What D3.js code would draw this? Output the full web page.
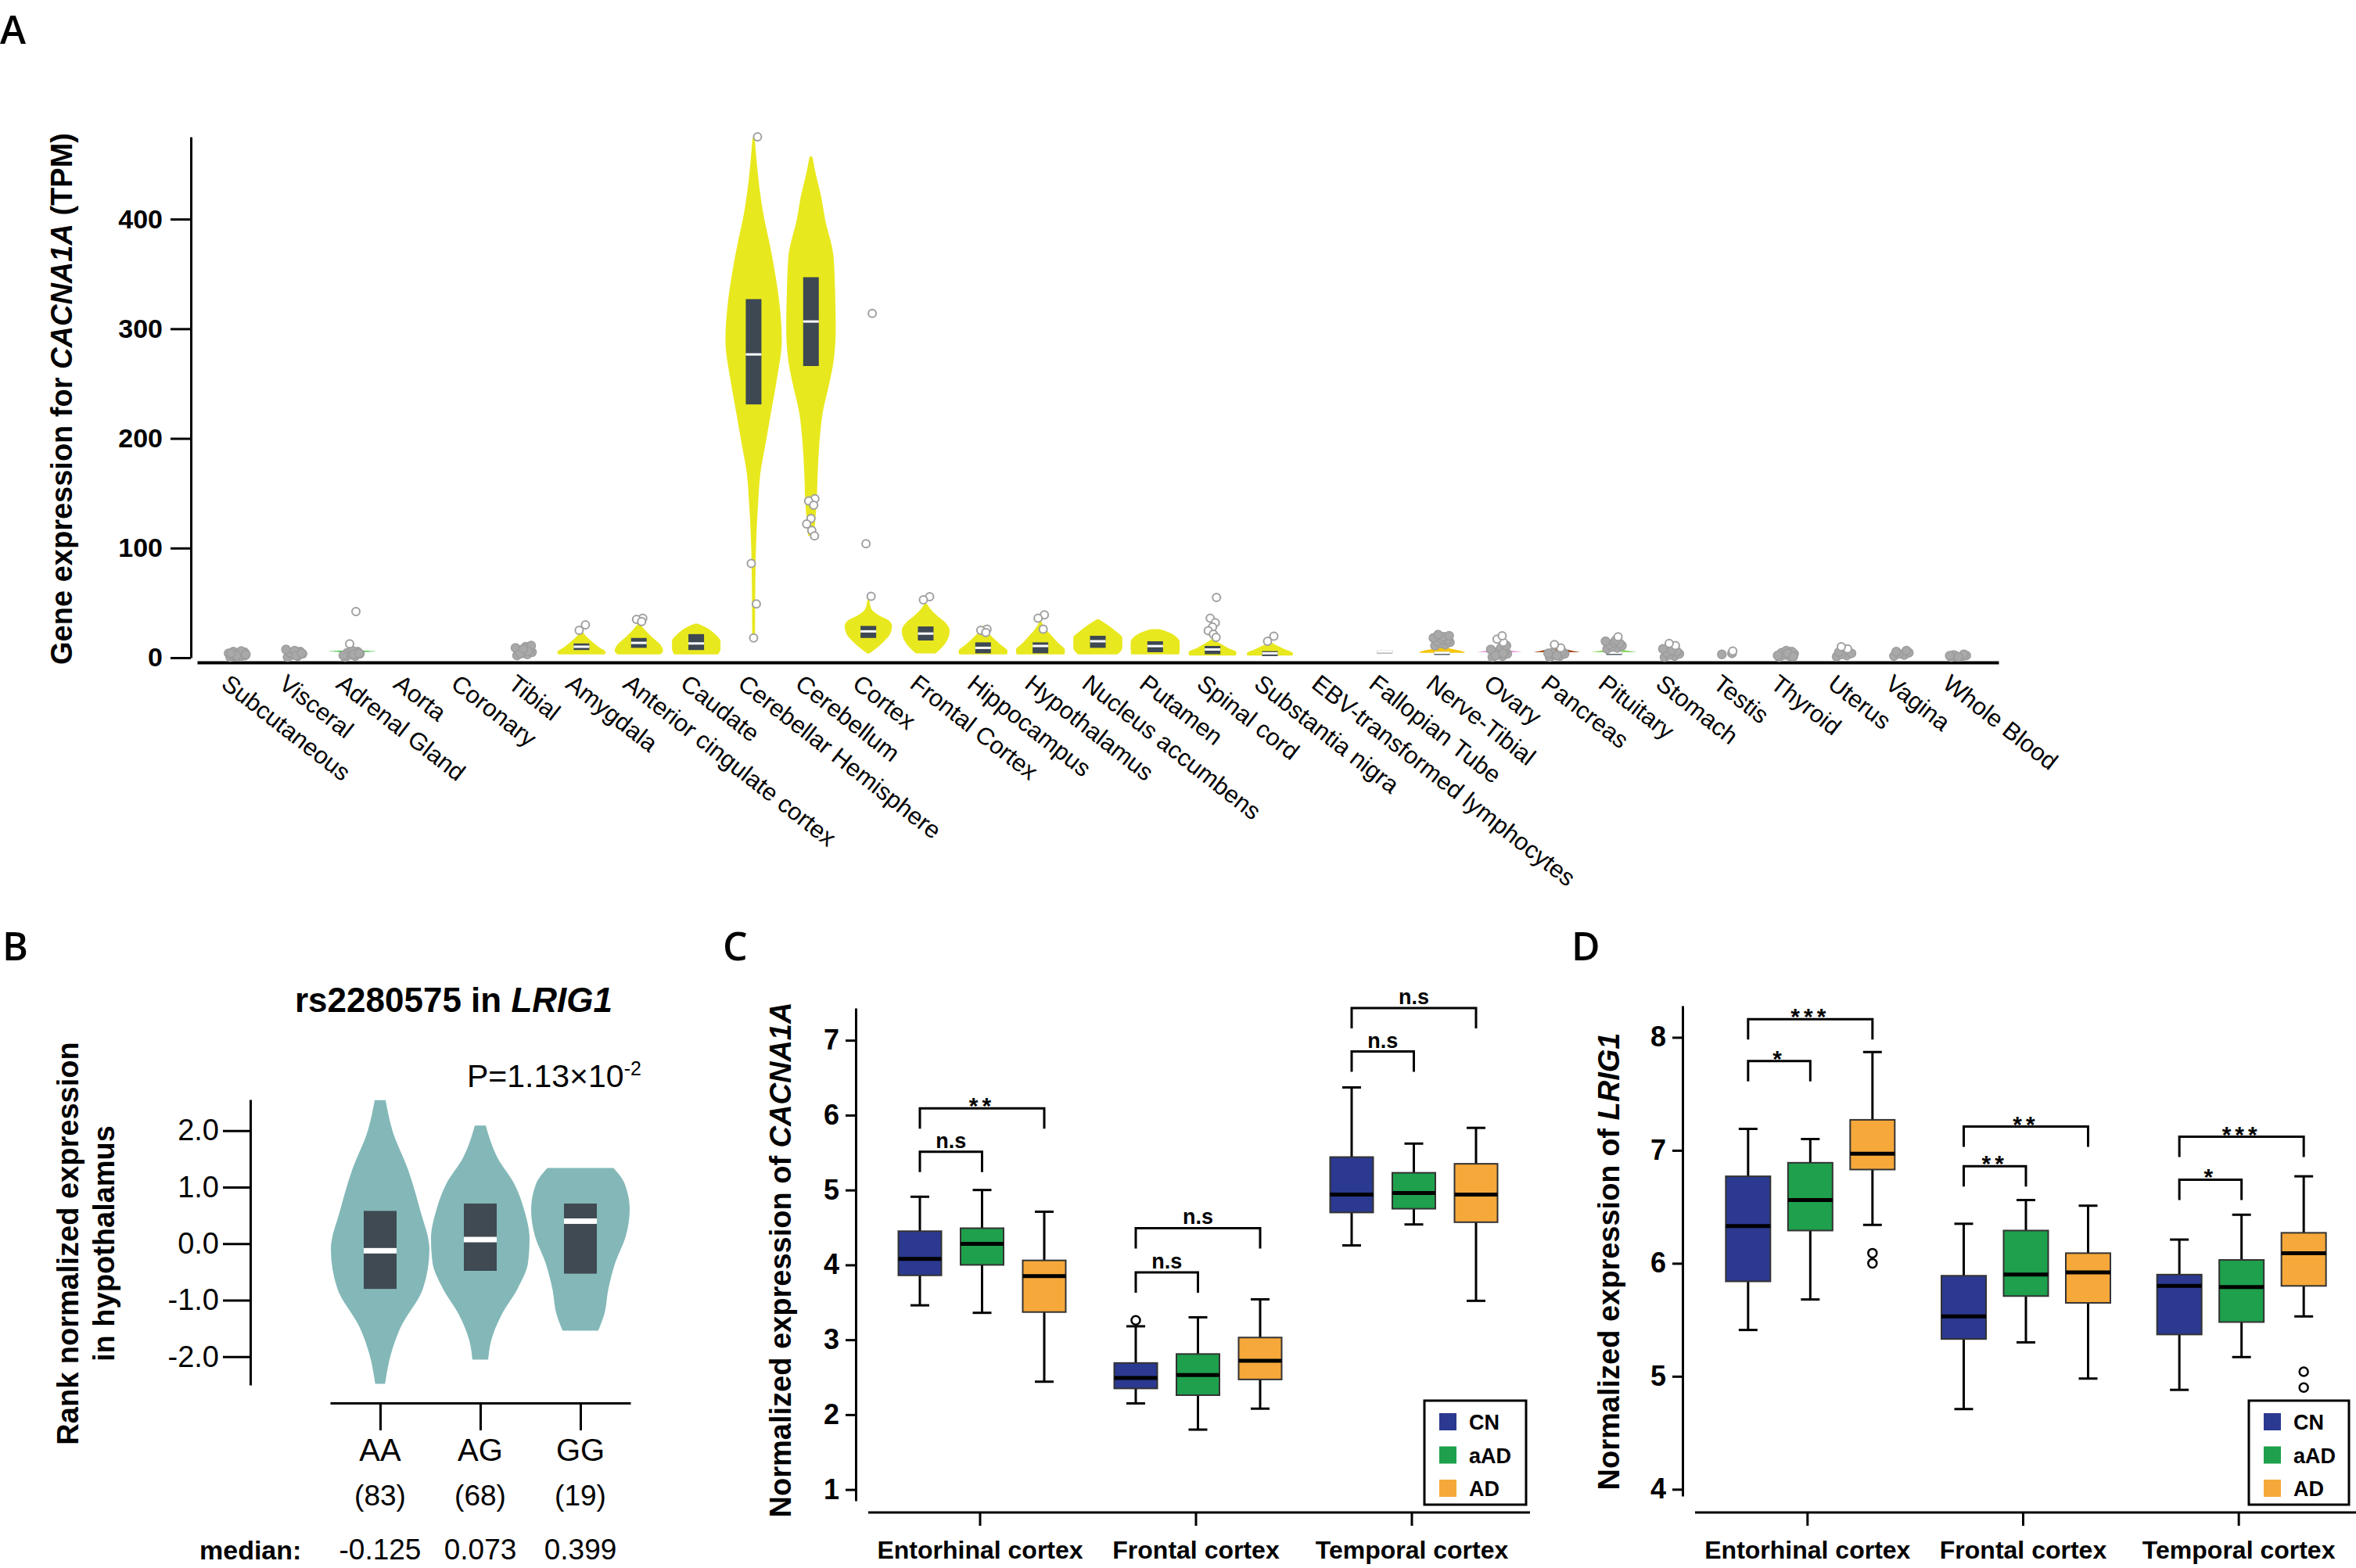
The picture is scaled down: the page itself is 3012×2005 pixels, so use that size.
<!DOCTYPE html>
<html>
<head>
<meta charset="utf-8">
<script src="https://cdn.jsdelivr.net/npm/d3@7/dist/d3.min.js"></script>
<style>
  body { margin: 0; background: #fff; }
  svg { display: block; }
  text { font-family: "Liberation Sans", Arial, Helvetica, sans-serif; fill: #000; }
  .narrow { font-family: "Liberation Sans Narrow", "Arial Narrow", "Liberation Sans", Arial, sans-serif; }
  .plabel { font-family: "Open Sans", "Liberation Sans", sans-serif; font-weight: 600; font-size: 50px; }
</style>
</head>
<body>
<svg id="figure" width="3012" height="2005"></svg>
<script>
// ---------- A: tissue expression of CACNA1A (TPM) ----------
const tissues = ["Subcutaneous", "Visceral", "Adrenal Gland", "Aorta", "Coronary", "Tibial",
  "Amygdala", "Anterior cingulate cortex", "Caudate", "Cerebellar Hemisphere", "Cerebellum",
  "Cortex", "Frontal Cortex", "Hippocampus", "Hypothalamus", "Nucleus accumbens", "Putamen",
  "Spinal cord", "Substantia nigra", "EBV-transformed lymphocytes", "Fallopian Tube",
  "Nerve-Tibial", "Ovary", "Pancreas", "Pituitary", "Stomach", "Testis", "Thyroid", "Uterus",
  "Vagina", "Whole Blood"];
const tissueColors = ["#FFA54F", "#FFA54F", "#3DBF3D", "#8B1C62", "#EE6A50", "#FF0000",
  "#E8E81E", "#E8E81E", "#E8E81E", "#E8E81E", "#E8E81E", "#E8E81E", "#E8E81E", "#E8E81E",
  "#E8E81E", "#E8E81E", "#E8E81E", "#E8E81E", "#E8E81E", "#CC66FF", "#FFCCCC",
  "#F5C60A", "#E896D8", "#A04A1A", "#86D460", "#FFDD99", "#AAAAAA", "#006600", "#FF66FF",
  "#FF5555", "#FF00BB"];
const tpmTicks = [0, 100, 200, 300, 400];
// violin outline: [TPM, relative half width]
const tissueViolins = [
  null, null,
  [[5, 0.3], [5.8, 0.84], [6.6, 0.3], [8, 0.06]],
  null, null, null,
  [[3, 0.82], [5, 0.86], [10, 0.6], [15, 0.36], [20, 0.15], [24, 0.03]],
  [[3, 0.75], [6, 0.86], [12, 0.76], [18, 0.5], [24, 0.26], [29, 0.09], [31, 0.03]],
  [[3, 0.78], [8, 0.86], [15, 0.86], [22, 0.65], [28, 0.32], [31, 0.05]],
  [[15, 0.05], [84, 0.07], [112, 0.1], [141, 0.16], [168, 0.24], [196, 0.43], [224, 0.62],
   [253, 0.82], [290, 1.0], [320, 0.93], [351, 0.76], [380, 0.55], [400, 0.38], [430, 0.2],
   [455, 0.1], [474, 0.04]],
  [[111, 0.1], [141, 0.2], [170, 0.24], [196, 0.3], [224, 0.42], [250, 0.65], [270, 0.8],
   [300, 0.88], [330, 0.86], [366, 0.8], [400, 0.5], [422, 0.35], [440, 0.18], [457, 0.05]],
  [[4, 0.04], [10, 0.35], [15, 0.56], [22, 0.78], [29, 0.84], [34, 0.72], [39, 0.35],
   [44, 0.12], [50, 0.05], [57, 0.02]],
  [[4, 0.35], [10, 0.6], [18, 0.8], [25, 0.85], [32, 0.7], [38, 0.42], [44, 0.18], [49, 0.05]],
  [[3, 0.85], [6, 0.87], [12, 0.62], [18, 0.36], [24, 0.14], [29, 0.03]],
  [[3, 0.85], [7, 0.87], [13, 0.65], [20, 0.4], [27, 0.17], [33, 0.03]],
  [[3, 0.7], [9, 0.87], [18, 0.87], [25, 0.6], [31, 0.28], [35, 0.04]],
  [[3, 0.85], [8, 0.87], [14, 0.87], [19, 0.75], [23, 0.5], [26, 0.15]],
  [[2, 0.82], [5, 0.85], [9, 0.55], [13, 0.27], [16, 0.08], [18, 0.02]],
  [[2, 0.8], [4, 0.82], [8, 0.5], [11, 0.25], [14, 0.04]],
  null, null,
  [[4.5, 0.82], [6, 0.7], [8, 0.35], [10, 0.05]],
  [[5, 0.8], [6.5, 0.45], [8, 0.15], [9, 0.02]],
  [[5, 0.82], [7, 0.45], [9, 0.15], [11, 0.02]],
  [[5, 0.82], [6.5, 0.45], [8, 0.15], [9.5, 0.02]],
  null, null, null, null, null, null];
// [q1, median, q3]
const tissueBoxes = [null, null, null, null, null, null,
  [7, 10, 13], [9, 13.5, 18], [7, 13, 21.5], [231, 276.6, 327], [266, 306.6, 347],
  [18, 24, 29], [15.7, 22, 28.5], [4, 9, 14], [4, 10.7, 14], [9, 15, 20], [5, 10.6, 15],
  [3.2, 7.5, 10.7], [1.5, 4, 6], null, [4, 5.5, 6.5], [2.5, 4.5, 5.5], null, null,
  [2.5, 4.5, 5.5], null, null, null, null, null, null];
// dense sample clouds (drawn solid grey)
const tissueClouds = [
  [0.5, 1, 1.5, 2, 2.5, 3, 3.5, 4, 4.5, 5, 5.5, 6, 2, 3, 4],
  [0.5, 1.5, 2.5, 3.5, 4.5, 5.5, 6.5, 7.5, 2, 4],
  [0.5, 1.5, 2.5, 3.5, 4.5, 5.5, 6.5, 2, 3, 4],
  [], [],
  [2, 3, 4, 5, 6, 7, 8, 9, 10, 11, 4, 6, 8],
  [], [], [], [], [], [], [], [], [], [], [], [], [], [], [],
  [11, 12, 13, 14, 15, 16, 17, 18, 19, 20, 21],
  [0.5, 1.5, 2.5, 3.5, 4.5, 5.5, 6.5, 7.5, 9, 11, 2, 4],
  [0.5, 1.5, 2.5, 3.5, 4.5, 5.5, 2, 4],
  [8, 9, 10, 11, 12, 13, 14, 15, 16],
  [0.5, 1.5, 2.5, 3.5, 4.5, 5.5, 6.5, 8],
  [3, 4],
  [0.5, 1.5, 2.5, 3.5, 4.5, 5.5, 6.5, 2, 4, 1],
  [1, 2, 3, 4, 5],
  [1.5, 2.5, 3.5, 4.5, 5.5, 6.5],
  [0.5, 1, 1.5, 2, 2.5, 3, 0.8, 1.8]];
// isolated outliers (hollow)
const tissueOutliers = [[], [], [42, 12.7], [], [], [],
  [30, 25], [36, 35, 33], [], [475, 86, 49, 18], [145, 143, 139, 127, 122, 116, 111],
  [314, 104, 56], [55.7, 52.8], [26, 25, 23], [39, 36, 26], [], [],
  [55, 36, 32, 28, 24.6, 21.4, 18.6], [19.6, 15], [], [], [], [14, 17, 20], [9, 12], [19],
  [11, 13], [6], [], [8, 10], [], []];

// ---------- B: rs2280575 eQTL for LRIG1 in hypothalamus ----------
const genotypes = ["AA", "AG", "GG"];
const genotypeCounts = [83, 68, 19];
const genotypeMedians = [-0.125, 0.073, 0.399];
const genotypeQuartiles = [[-0.80, 0.58], [-0.48, 0.71], [-0.53, 0.71]];
const genotypeViolins = [
  [[-2.48, 0.1], [-1.95, 0.22], [-1.49, 0.41], [-0.79, 0.87], [-0.1, 1.0], [0.6, 0.81],
   [1.3, 0.57], [2.0, 0.25], [2.54, 0.11]],
  [[-2.05, 0.16], [-1.72, 0.22], [-1.26, 0.43], [-0.79, 0.76], [-0.33, 0.97], [0.09, 1.0],
   [0.6, 0.89], [1.06, 0.69], [1.52, 0.35], [2.09, 0.11]],
  [[-1.54, 0.36], [-1.26, 0.48], [-0.79, 0.57], [-0.33, 0.71], [0.13, 0.92], [0.6, 1.0],
   [1.06, 0.9], [1.34, 0.67]]];
const rankTicks = [-2, -1, 0, 1, 2];

// ---------- C / D: brain region boxplots ----------
const regions = ["Entorhinal cortex", "Frontal cortex", "Temporal cortex"];
const diagnoses = ["CN", "aAD", "AD"];
const diagnosisColors = ["#2B3991", "#1EA04C", "#F7A83A"];
// [lower whisker, q1, median, q3, upper whisker]
const cacnaStats = [
  [[3.46, 3.86, 4.08, 4.45, 4.91], [3.36, 4.00, 4.28, 4.49, 5.00], [2.44, 3.37, 3.85, 4.06, 4.71]],
  [[2.15, 2.35, 2.49, 2.69, 3.18], [1.80, 2.26, 2.53, 2.81, 3.30], [2.08, 2.47, 2.72, 3.03, 3.54]],
  [[4.26, 4.70, 4.94, 5.44, 6.37], [4.54, 4.75, 4.96, 5.23, 5.62], [3.52, 4.57, 4.94, 5.35, 5.83]]];
const cacnaOutliers = [[[], [], []], [[3.26], [], []], [[], [], []]];
const cacnaBrackets = [
  ["Entorhinal cortex", "CN", "aAD", 5.51, "n.s"], ["Entorhinal cortex", "CN", "AD", 6.09, "**"],
  ["Frontal cortex", "CN", "aAD", 3.90, "n.s"], ["Frontal cortex", "CN", "AD", 4.49, "n.s"],
  ["Temporal cortex", "CN", "aAD", 6.85, "n.s"], ["Temporal cortex", "CN", "AD", 7.43, "n.s"]];
const cacnaTicks = [1, 2, 3, 4, 5, 6, 7];

const lrigStats = [
  [[5.41, 5.84, 6.33, 6.77, 7.19], [5.68, 6.29, 6.56, 6.89, 7.10], [6.34, 6.83, 6.97, 7.27, 7.87]],
  [[4.71, 5.33, 5.53, 5.89, 6.35], [5.30, 5.71, 5.90, 6.29, 6.56], [4.98, 5.65, 5.92, 6.09, 6.51]],
  [[4.88, 5.37, 5.80, 5.90, 6.21], [5.17, 5.48, 5.79, 6.03, 6.43], [5.53, 5.80, 6.09, 6.27, 6.77]]];
const lrigOutliers = [[[], [], [6.09, 6.0]], [[], [], []], [[], [], [5.04, 4.90]]];
const lrigBrackets = [
  ["Entorhinal cortex", "CN", "aAD", 7.79, "*"], ["Entorhinal cortex", "CN", "AD", 8.16, "***"],
  ["Frontal cortex", "CN", "aAD", 6.86, "**"], ["Frontal cortex", "CN", "AD", 7.21, "**"],
  ["Temporal cortex", "CN", "aAD", 6.74, "*"], ["Temporal cortex", "CN", "AD", 7.12, "***"]];
const lrigTicks = [4, 5, 6, 7, 8];

const svg = d3.select("#figure");
svg.append("rect").attr("width", 3012).attr("height", 2005).attr("fill", "#fff");

// deterministic horizontal spread for stacked points
const JITTER = [-9, 4, -3, 10, -6, 7, 0, -11, 2, 9, -5, 5, -1, 11, -8, 3];

function styleAxisText(g, size, weight) {
  g.attr("font-family", null).attr("font-size", null);
  g.selectAll("text").attr("font-size", size).attr("font-weight", weight).attr("fill", "#000");
  g.selectAll("line, path").attr("stroke", "#000").attr("stroke-width", 3);
}

// ================= Panel A =================
(function drawA() {
  const x = d3.scalePoint().domain(tissues).range([252, 2555]).padding(0.7);
  const y = d3.scaleLinear().domain([0, 475]).range([841, 175]);
  const w = d3.scaleLinear().domain([0, 1]).range([0, 36]);
  const g = svg.append("g");

  const yAxis = g.append("g").attr("transform", "translate(244,0)")
    .call(d3.axisLeft(y).tickValues(tpmTicks).tickSize(26).tickSizeOuter(0).tickPadding(10)
      .tickFormat(d3.format("d")));
  styleAxisText(yAxis, 34, "bold");

  const xAxis = g.append("g").attr("transform", "translate(0,847)")
    .call(d3.axisBottom(x).tickSize(0).tickSizeOuter(0).tickFormat(""));
  xAxis.select(".domain").attr("stroke", "#000").attr("stroke-width", 4);

  g.append("g").selectAll("text").data(tissues).join("text")
    .attr("x", d => x(d) - 22).attr("y", 878)
    .attr("transform", d => `rotate(38,${x(d) - 22},878)`)
    .attr("font-size", 31)
    .text(d => d);

  const violins = tissues.map((t, i) => ({ t, i, prof: tissueViolins[i] })).filter(d => d.prof);
  g.append("g").selectAll("path").data(violins).join("path")
    .attr("fill", d => tissueColors[d.i])
    .attr("d", d => d3.area().curve(d3.curveMonotoneY)
      .y(p => y(p[0])).x0(p => x(d.t) - w(p[1])).x1(p => x(d.t) + w(p[1]))(d.prof));

  const boxes = tissues.map((t, i) => ({ t, b: tissueBoxes[i] })).filter(d => d.b);
  const bg = g.append("g");
  bg.selectAll("rect.box").data(boxes).join("rect").attr("class", "box")
    .attr("x", d => x(d.t) - 10).attr("width", 20)
    .attr("y", d => y(d.b[2])).attr("height", d => Math.max(3, y(d.b[0]) - y(d.b[2])))
    .attr("fill", "#3d4853");
  bg.selectAll("rect.med").data(boxes).join("rect").attr("class", "med")
    .attr("x", d => x(d.t) - 10).attr("width", 20)
    .attr("y", d => y(d.b[1]) - 1.5).attr("height", 3)
    .attr("fill", "#fff");

  const cloud = tissues.flatMap((t, i) => tissueClouds[i].map((v, k) => ({ t, v, k })));
  g.append("g").selectAll("circle").data(cloud).join("circle")
    .attr("cx", d => x(d.t) + JITTER[d.k % 16])
    .attr("cy", d => y(d.v)).attr("r", 5.5)
    .attr("fill", "#a9a9a9").attr("stroke", "#9c9c9c").attr("stroke-width", 1.5);

  const outs = tissues.flatMap((t, i) => tissueOutliers[i].map((v, k) => ({ t, v, k })));
  g.append("g").selectAll("circle").data(outs).join("circle")
    .attr("cx", d => x(d.t) + JITTER[(d.k + 3) % 16] * 0.5)
    .attr("cy", d => y(d.v)).attr("r", 5)
    .attr("fill", "#fff").attr("stroke", "#a0a0a0").attr("stroke-width", 2);

  const title = g.append("text").attr("transform", "translate(92,510) rotate(-90)")
    .attr("text-anchor", "middle").attr("font-size", 38).attr("font-weight", "bold");
  title.append("tspan").text("Gene expression for ");
  title.append("tspan").attr("font-style", "italic").text("CACNA1A");
  title.append("tspan").text(" (TPM)");

  g.append("text").attr("class", "plabel").attr("x", 0).attr("y", 56).text("A");
})();

// ================= Panel B =================
(function drawB() {
  const x = d3.scalePoint().domain(genotypes).range([422, 806]).padding(0.5);
  const y = d3.scaleLinear().domain([-2.5, 2.55]).range([1771, 1406]);
  const w = d3.scaleLinear().domain([0, 1]).range([0, 63]);
  const g = svg.append("g");

  const yAxis = g.append("g").attr("transform", "translate(320,0)")
    .call(d3.axisLeft(y).tickValues(rankTicks).tickSize(35).tickSizeOuter(0).tickPadding(5)
      .tickFormat(d => d.toFixed(1)));
  styleAxisText(yAxis, 38, "normal");

  const xAxis = g.append("g").attr("transform", "translate(0,1794)")
    .call(d3.axisBottom(x).tickSize(35).tickSizeOuter(0).tickFormat(""));
  styleAxisText(xAxis, 38, "normal");

  g.append("g").selectAll("path").data(genotypes).join("path")
    .attr("fill", "#84B8B8")
    .attr("d", (d, i) => d3.area().curve(d3.curveMonotoneY)
      .y(p => y(p[0])).x0(p => x(d) - w(p[1])).x1(p => x(d) + w(p[1]))(genotypeViolins[i]));
  g.append("g").selectAll("rect").data(genotypes).join("rect")
    .attr("x", d => x(d) - 21).attr("width", 42)
    .attr("y", (d, i) => y(genotypeQuartiles[i][1]))
    .attr("height", (d, i) => y(genotypeQuartiles[i][0]) - y(genotypeQuartiles[i][1]))
    .attr("fill", "#3F4A52");
  g.append("g").selectAll("rect").data(genotypes).join("rect")
    .attr("x", d => x(d) - 21).attr("width", 42)
    .attr("y", (d, i) => y(genotypeMedians[i]) - 3.5).attr("height", 7)
    .attr("fill", "#fff");

  g.append("g").selectAll("text").data(genotypes).join("text")
    .attr("x", d => x(d)).attr("y", 1868).attr("text-anchor", "middle")
    .attr("font-size", 40).text(d => d);
  g.append("g").selectAll("text").data(genotypes).join("text")
    .attr("x", d => x(d)).attr("y", 1925).attr("text-anchor", "middle")
    .attr("font-size", 37).text((d, i) => `(${genotypeCounts[i]})`);
  g.append("text").attr("x", 255).attr("y", 1994).attr("font-size", 34)
    .attr("font-weight", "bold").text("median:");
  g.append("g").selectAll("text").data(genotypes).join("text")
    .attr("x", d => x(d)).attr("y", 1994).attr("text-anchor", "middle")
    .attr("font-size", 37).text((d, i) => genotypeMedians[i].toFixed(3));

  const title = g.append("text").attr("x", 580).attr("y", 1294).attr("text-anchor", "middle")
    .attr("font-size", 44).attr("font-weight", "bold");
  title.append("tspan").text("rs2280575 in ");
  title.append("tspan").attr("font-style", "italic").text("LRIG1");

  const p = g.append("text").attr("x", 597).attr("y", 1390).attr("font-size", 41);
  p.append("tspan").text("P=1.13\u00d710");
  p.append("tspan").attr("font-size", 25).attr("dy", -15).text("-2");

  g.append("text").attr("transform", "translate(100,1590) rotate(-90)")
    .attr("text-anchor", "middle").attr("font-size", 38).attr("font-weight", "bold")
    .text("Rank normalized expression");
  g.append("text").attr("transform", "translate(146,1590) rotate(-90)")
    .attr("text-anchor", "middle").attr("font-size", 38).attr("font-weight", "bold")
    .text("in hypothalamus");

  g.append("text").attr("class", "plabel").attr("x", 3).attr("y", 1228).text("B");
})();

// ================= Panels C and D =================
function drawBoxPanel(o) {
  const g = svg.append("g");
  const x = d3.scalePoint().domain(regions).range(o.xRange).padding(0.5);
  const sub = d3.scalePoint().domain(diagnoses).range(o.subRange);
  const y = d3.scaleLinear().domain(o.yDomain).range(o.yRange);
  const half = o.boxWidth / 2;

  const yAxis = g.append("g").attr("transform", `translate(${o.yAxisX},0)`)
    .call(d3.axisLeft(y).tickValues(o.ticks).tickSize(13).tickSizeOuter(0).tickPadding(8)
      .tickFormat(d3.format("d")));
  styleAxisText(yAxis, 36, "bold");

  g.append("line").attr("x1", o.xLine[0]).attr("x2", o.xLine[1])
    .attr("y1", 1934).attr("y2", 1934).attr("stroke", "#000").attr("stroke-width", 3);
  g.append("g").selectAll("line").data(regions).join("line")
    .attr("x1", d => x(d)).attr("x2", d => x(d)).attr("y1", 1934).attr("y2", 1951)
    .attr("stroke", "#000").attr("stroke-width", 3);
  g.append("g").selectAll("text").data(regions).join("text")
    .attr("class", "narrow")
    .attr("x", d => x(d)).attr("y", 1993).attr("text-anchor", "middle")
    .attr("font-size", 32).attr("font-weight", "bold").text(d => d);

  const items = regions.flatMap((r, ri) => diagnoses.map((dg, di) => ({
    cx: x(r) + sub(dg), s: o.stats[ri][di], color: diagnosisColors[di], out: o.outliers[ri][di]
  })));
  const bx = g.append("g").selectAll("g").data(items).join("g");
  bx.append("line").attr("x1", d => d.cx).attr("x2", d => d.cx)
    .attr("y1", d => y(d.s[0])).attr("y2", d => y(d.s[4]))
    .attr("stroke", "#000").attr("stroke-width", 3);
  bx.append("line").attr("x1", d => d.cx - 12).attr("x2", d => d.cx + 12)
    .attr("y1", d => y(d.s[4])).attr("y2", d => y(d.s[4]))
    .attr("stroke", "#000").attr("stroke-width", 3);
  bx.append("line").attr("x1", d => d.cx - 12).attr("x2", d => d.cx + 12)
    .attr("y1", d => y(d.s[0])).attr("y2", d => y(d.s[0]))
    .attr("stroke", "#000").attr("stroke-width", 3);
  bx.append("rect").attr("x", d => d.cx - half).attr("width", o.boxWidth)
    .attr("y", d => y(d.s[3])).attr("height", d => y(d.s[1]) - y(d.s[3]))
    .attr("fill", d => d.color).attr("stroke", "#333").attr("stroke-width", 2);
  bx.append("line").attr("x1", d => d.cx - half).attr("x2", d => d.cx + half)
    .attr("y1", d => y(d.s[2])).attr("y2", d => y(d.s[2]))
    .attr("stroke", "#000").attr("stroke-width", 5);
  bx.selectAll("circle").data(d => d.out.map(v => ({ cx: d.cx, v }))).join("circle")
    .attr("cx", d => d.cx).attr("cy", d => y(d.v)).attr("r", 5.5)
    .attr("fill", "#fff").attr("stroke", "#000").attr("stroke-width", 2.5);

  const br = g.append("g").selectAll("g").data(o.brackets).join("g");
  br.append("path")
    .attr("d", d => {
      const x1 = x(d[0]) + sub(d[1]), x2 = x(d[0]) + sub(d[2]), yy = y(d[3]);
      return `M${x1},${yy + 26}V${yy}H${x2}V${yy + 26}`;
    })
    .attr("fill", "none").attr("stroke", "#000").attr("stroke-width", 3);
  br.append("text")
    .attr("class", "narrow")
    .attr("x", d => x(d[0]) + (sub(d[1]) + sub(d[2])) / 2)
    .attr("y", d => d[4] === "n.s" ? y(d[3]) - 5 : y(d[3]) + 7)
    .attr("text-anchor", "middle")
    .attr("font-size", d => d[4] === "n.s" ? 27 : 30)
    .attr("font-weight", "bold")
    .attr("letter-spacing", d => d[4] === "n.s" ? 0 : 5)
    .attr("fill", d => d[4] === "n.s" ? "#000" : "#555")
    .text(d => d[4]);

  // legend
  const lg = g.append("g").attr("transform", `translate(${o.legend[0]},${o.legend[1]})`);
  lg.append("rect").attr("width", o.legend[2]).attr("height", 133)
    .attr("fill", "#fff").attr("stroke", "#000").attr("stroke-width", 3);
  const row = lg.selectAll("g").data(diagnoses).join("g")
    .attr("transform", (d, i) => `translate(0,${27 + i * 42.5})`);
  row.append("rect").attr("x", 19).attr("y", -11).attr("width", 22).attr("height", 22)
    .attr("fill", (d, i) => diagnosisColors[i]);
  row.append("text").attr("class", "narrow").attr("x", 57).attr("y", 10)
    .attr("font-size", 27).attr("font-weight", "bold").text(d => d);

  const t = g.append("text").attr("transform", `translate(${o.titleX},${o.titleY}) rotate(-90)`)
    .attr("text-anchor", "middle").attr("font-size", 38).attr("font-weight", "bold");
  t.append("tspan").text("Normalized expression of ");
  t.append("tspan").attr("font-style", "italic").text(o.gene);

  g.append("text").attr("class", "plabel").attr("x", o.label[0]).attr("y", o.label[1]).text(o.label[2]);
}

drawBoxPanel({
  stats: cacnaStats, outliers: cacnaOutliers, brackets: cacnaBrackets, ticks: cacnaTicks,
  gene: "CACNA1A", xRange: [1115, 1943], subRange: [-77, 82], boxWidth: 55,
  yDomain: [0.85, 7.43], yRange: [1919, 1289], yAxisX: 1094, xLine: [1110, 1956],
  legend: [1821, 1791, 130], titleX: 1011, titleY: 1611, label: [924, 1228, "C"]
});
drawBoxPanel({
  stats: lrigStats, outliers: lrigOutliers, brackets: lrigBrackets, ticks: lrigTicks,
  gene: "LRIG1", xRange: [2173, 3000], subRange: [-76, 83], boxWidth: 57,
  yDomain: [3.94, 8.28], yRange: [1913, 1286], yAxisX: 2151, xLine: [2167, 3012],
  legend: [2875, 1791, 128], titleX: 2070, titleY: 1613, label: [2009, 1228, "D"]
});
</script>
</body>
</html>
